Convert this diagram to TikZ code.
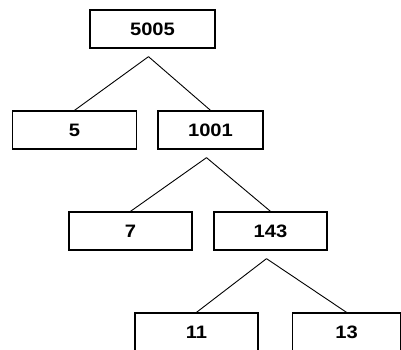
\documentclass[tikz,border=0pt]{standalone}
\usepackage{fontspec}
\setmainfont{Liberation Sans}[FakeStretch=1.12]

\begin{document}
\begin{tikzpicture}[x=1pt,y=1pt,
            inner sep=2pt,
            every node/.style={draw,rectangle,line width=1.3pt,minimum height=38pt,
                font=\fontsize{18}{18}\selectfont\bfseries},
            level distance=101pt,
            edge from parent/.style={draw,line width=0.9pt},
            edge from parent path={([shift={(-4pt,-8pt)}]\tikzparentnode.south) -- (\tikzchildnode.north)},
            level 1/.style={sibling distance=136pt},
            level 2/.style={sibling distance=140pt},
            level 3/.style={sibling distance=150pt},
            ]
  \useasboundingbox (0,0) rectangle (401,-350);
  \clip (0,0) rectangle (401,-350);

  \node (root) at (152.5,-29) [minimum width=125pt] {5005}
      child[xshift=-10pt] {node[minimum width=124pt] {5}}
      child[xshift=-10pt] {node[minimum width=105pt] {1001}
          child[xshift=-10pt] {node[minimum width=123pt] {7}}
          child[xshift=-10pt] {node[minimum width=113pt] {143}
              child[xshift=1pt] {node[minimum width=123pt] {11}}
              child[xshift=1pt] {node[minimum width=108pt] {13}}
          }
      };
\end{tikzpicture}
\end{document}
